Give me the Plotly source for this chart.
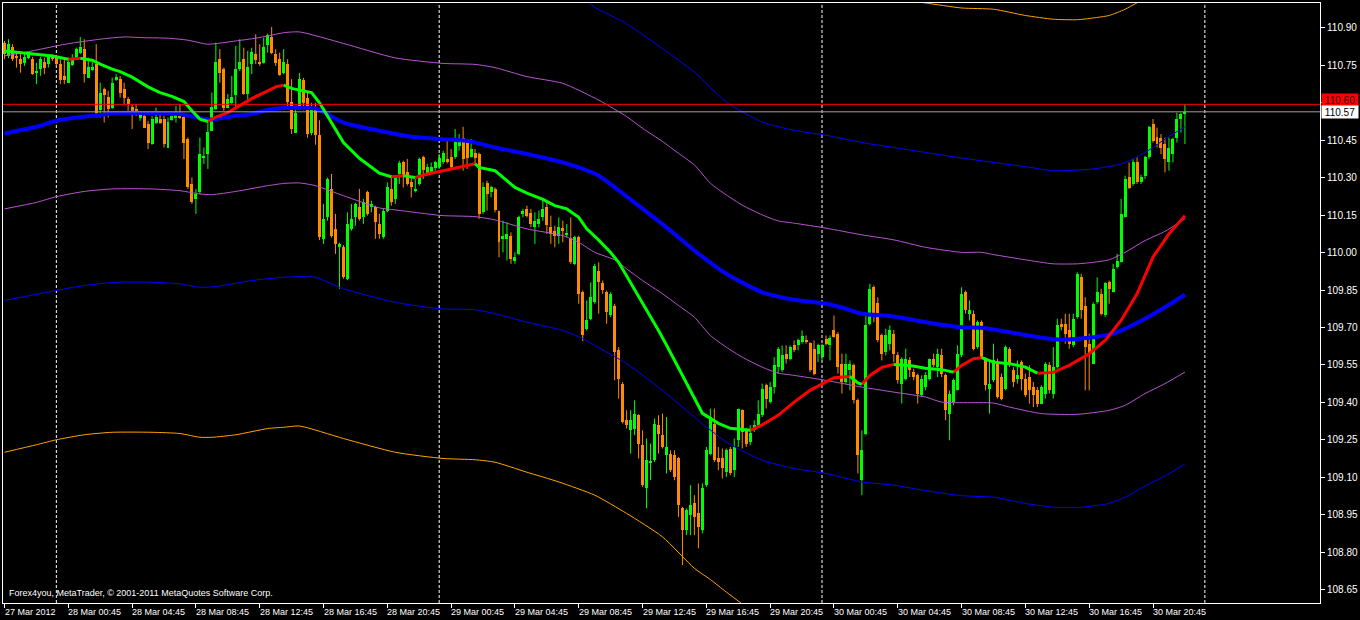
import plotly.graph_objects as go

# ---------------- DATA ----------------
# 15-minute bars, bar 0 = 27 Mar 2012 20:45
OPEN = [110.841,110.788,110.824,110.788,110.777,110.761,110.781,110.777,110.723,110.735,
        110.764,110.755,110.788,110.781,110.757,110.708,110.681,110.752,110.781,110.801,
        110.815,110.701,110.733,110.757,110.571,110.655,110.624,110.581,110.693,110.695,
        110.655,110.616,110.584,110.576,110.541,110.548,110.515,110.435,110.521,110.537,
        110.537,110.421,110.533,110.541,110.548,110.545,110.455,110.275,110.215,110.241,
        110.380,110.395,110.488,110.575,110.775,110.735,110.581,110.601,110.632,110.735,
        110.775,110.635,110.755,110.797,110.764,110.761,110.832,110.864,110.797,110.777,
        110.719,110.757,110.604,110.481,110.588,110.690,110.620,110.480,110.570,110.470,
        110.055,110.141,110.255,110.095,110.021,110.024,109.895,110.095,110.141,110.181,
        110.141,110.241,110.181,110.184,110.115,110.061,110.168,110.255,110.215,110.315,
        110.361,110.324,110.284,110.249,110.275,110.384,110.317,110.321,110.339,110.341,
        110.361,110.375,110.384,110.381,110.428,110.459,110.441,110.384,110.401,110.395,
        110.161,110.277,110.241,110.255,110.165,110.055,110.055,110.068,109.968,109.995,
        110.155,110.175,110.157,110.101,110.115,110.141,110.184,110.104,110.088,110.068,
        110.099,110.072,110.059,109.955,110.064,109.841,109.695,109.735,109.801,109.925,
        109.877,109.841,109.748,109.788,109.608,109.475,109.328,109.288,109.295,109.348,
        109.228,109.055,109.157,109.168,109.308,109.268,109.188,109.195,109.188,109.175,
        108.975,108.888,108.948,108.995,108.955,108.888,109.068,109.195,109.315,109.175,
        109.175,109.121,109.215,109.128,109.248,109.368,109.288,109.241,109.288,109.308,
        109.348,109.468,109.401,109.461,109.541,109.528,109.595,109.575,109.628,109.628,
        109.641,109.651,109.637,109.615,109.595,109.581,109.655,109.628,109.688,109.675,
        109.555,109.481,109.528,109.548,109.408,109.088,109.275,109.715,109.864,109.797,
        109.668,109.601,109.635,109.675,109.588,109.475,109.495,109.568,109.521,109.508,
        109.428,109.461,109.495,109.575,109.541,109.588,109.508,109.355,109.401,109.448,
        109.588,109.841,109.755,109.755,109.621,109.721,109.568,109.455,109.488,109.561,
        109.501,109.455,109.615,109.528,109.495,109.561,109.495,109.501,109.461,109.448,
        109.395,109.435,109.548,109.435,109.541,109.715,109.715,109.688,109.628,109.741,
        109.904,109.788,109.635,109.555,109.801,109.835,109.748,109.881,109.841,109.941,
        109.961,110.141,110.304,110.275,110.361,110.281,110.308,110.381,110.515,110.464,
        110.459,110.437,110.361,110.395,110.461,110.535,110.555]
HIGH = [110.848,110.855,110.835,110.801,110.795,110.801,110.801,110.784,110.761,110.784,
        110.781,110.795,110.795,110.788,110.775,110.775,110.781,110.795,110.821,110.864,
        110.855,110.781,110.775,110.835,110.681,110.661,110.648,110.701,110.715,110.708,
        110.681,110.624,110.595,110.595,110.561,110.555,110.528,110.548,110.581,110.561,
        110.548,110.541,110.561,110.588,110.595,110.555,110.461,110.301,110.255,110.461,
        110.421,110.528,110.641,110.841,110.815,110.741,110.635,110.708,110.828,110.855,
        110.821,110.808,110.821,110.875,110.835,110.861,110.877,110.904,110.815,110.801,
        110.815,110.775,110.695,110.581,110.720,110.700,110.640,110.600,110.600,110.530,
        110.195,110.300,110.315,110.155,110.040,110.030,110.161,110.195,110.200,110.255,
        110.215,110.248,110.208,110.188,110.155,110.175,110.281,110.308,110.308,110.368,
        110.368,110.375,110.301,110.295,110.381,110.388,110.355,110.361,110.368,110.395,
        110.408,110.448,110.415,110.495,110.475,110.504,110.455,110.455,110.415,110.401,
        110.281,110.288,110.268,110.261,110.168,110.128,110.121,110.081,110.001,110.148,
        110.175,110.188,110.175,110.161,110.168,110.208,110.201,110.148,110.108,110.141,
        110.128,110.115,110.141,110.068,110.068,109.848,109.808,109.881,109.955,109.961,
        109.888,109.848,109.841,109.795,109.621,109.481,109.368,109.368,109.408,109.352,
        109.288,109.255,109.235,109.335,109.348,109.355,109.341,109.208,109.208,109.181,
        108.981,108.975,109.068,109.028,109.075,109.075,109.221,109.375,109.375,109.221,
        109.215,109.215,109.221,109.255,109.375,109.372,109.295,109.308,109.328,109.408,
        109.475,109.475,109.481,109.581,109.621,109.628,109.628,109.628,109.648,109.655,
        109.688,109.668,109.641,109.648,109.635,109.635,109.668,109.668,109.748,109.681,
        109.595,109.595,109.568,109.555,109.415,109.288,109.748,109.875,109.868,109.821,
        109.675,109.695,109.708,109.690,109.601,109.581,109.615,109.581,109.535,109.515,
        109.508,109.521,109.575,109.595,109.615,109.615,109.515,109.448,109.495,109.628,
        109.861,109.848,109.808,109.768,109.728,109.728,109.581,109.568,109.635,109.575,
        109.515,109.628,109.621,109.541,109.568,109.568,109.515,109.548,109.481,109.461,
        109.468,109.561,109.561,109.621,109.735,109.735,109.755,109.755,109.755,109.921,
        109.915,109.821,109.675,109.801,109.901,109.855,109.881,109.888,109.955,109.995,
        110.215,110.308,110.361,110.375,110.381,110.312,110.388,110.508,110.535,110.501,
        110.475,110.461,110.461,110.461,110.561,110.561,110.595]
LOW = [110.775,110.779,110.768,110.741,110.721,110.748,110.775,110.712,110.675,110.708,
       110.715,110.741,110.768,110.748,110.675,110.675,110.681,110.748,110.779,110.795,
       110.681,110.701,110.728,110.541,110.541,110.521,110.541,110.575,110.688,110.621,
       110.595,110.555,110.495,110.548,110.528,110.499,110.415,110.432,110.515,110.515,
       110.421,110.419,110.528,110.521,110.535,110.375,110.255,110.195,110.155,110.235,
       110.355,110.335,110.488,110.571,110.681,110.568,110.579,110.595,110.575,110.728,
       110.632,110.601,110.715,110.755,110.748,110.757,110.801,110.795,110.748,110.708,
       110.715,110.575,110.475,110.481,110.580,110.570,110.460,110.470,110.432,110.050,
       110.035,110.128,110.060,109.995,109.855,109.895,109.890,110.088,110.108,110.128,
       110.115,110.148,110.161,110.055,110.055,110.055,110.161,110.188,110.195,110.275,
       110.261,110.268,110.221,110.241,110.268,110.295,110.308,110.315,110.328,110.335,
       110.355,110.357,110.335,110.375,110.408,110.328,110.335,110.381,110.355,110.135,
       110.155,110.168,110.221,110.161,109.981,110.001,109.968,109.955,109.955,109.990,
       110.141,110.141,110.101,110.035,110.101,110.128,110.075,110.035,110.021,110.035,
       110.041,110.061,109.955,109.950,109.795,109.645,109.688,109.728,109.795,109.755,
       109.835,109.715,109.741,109.488,109.415,109.315,109.295,109.195,109.268,109.175,
       109.061,108.975,109.088,109.161,109.195,109.215,109.115,109.121,109.088,108.941,
       108.748,108.868,108.868,108.868,108.815,108.875,109.061,109.188,109.161,109.128,
       109.095,109.101,109.108,109.101,109.221,109.215,109.221,109.228,109.281,109.301,
       109.341,109.375,109.395,109.435,109.515,109.521,109.555,109.568,109.601,109.608,
       109.635,109.635,109.521,109.508,109.561,109.568,109.628,109.568,109.659,109.515,
       109.435,109.475,109.448,109.395,109.115,109.028,109.268,109.708,109.721,109.641,
       109.568,109.588,109.608,109.560,109.475,109.395,109.488,109.501,109.488,109.395,
       109.421,109.448,109.488,109.541,109.501,109.501,109.328,109.248,109.388,109.448,
       109.581,109.755,109.728,109.608,109.615,109.575,109.448,109.355,109.481,109.415,
       109.408,109.448,109.541,109.461,109.475,109.448,109.421,109.395,109.381,109.381,
       109.395,109.415,109.435,109.415,109.535,109.688,109.635,109.615,109.621,109.735,
       109.735,109.448,109.448,109.555,109.795,109.748,109.741,109.795,109.841,109.935,
       109.961,110.141,110.255,110.268,110.275,110.275,110.295,110.375,110.441,110.421,
       110.395,110.321,110.328,110.361,110.441,110.481,110.435]
CLOSE = [110.795,110.835,110.775,110.779,110.755,110.784,110.795,110.715,110.725,110.775,
         110.741,110.785,110.775,110.757,110.691,110.691,110.764,110.771,110.815,110.824,
         110.715,110.744,110.744,110.561,110.641,110.632,110.575,110.681,110.704,110.641,
         110.619,110.595,110.565,110.561,110.552,110.501,110.441,110.537,110.544,110.521,
         110.435,110.524,110.548,110.557,110.541,110.441,110.261,110.201,110.235,110.395,
         110.383,110.484,110.584,110.764,110.721,110.581,110.615,110.624,110.735,110.764,
         110.637,110.744,110.804,110.771,110.755,110.824,110.872,110.800,110.761,110.712,
         110.764,110.604,110.495,110.561,110.695,110.600,110.477,110.570,110.472,110.061,
         110.135,110.295,110.068,110.035,110.035,109.901,110.115,110.135,110.195,110.135,
         110.201,110.155,110.195,110.121,110.075,110.168,110.264,110.201,110.304,110.357,
         110.312,110.275,110.264,110.252,110.375,110.331,110.344,110.341,110.361,110.379,
         110.401,110.361,110.341,110.445,110.455,110.375,110.379,110.415,110.379,110.155,
         110.264,110.235,110.261,110.171,110.041,110.068,110.075,109.975,109.984,110.141,
         110.168,110.148,110.115,110.128,110.135,110.175,110.112,110.075,110.068,110.104,
         110.088,110.075,109.961,110.061,109.835,109.668,109.728,109.821,109.948,109.881,
         109.851,109.761,109.835,109.601,109.495,109.321,109.308,109.328,109.355,109.235,
         109.068,109.168,109.160,109.315,109.275,109.221,109.221,109.128,109.101,108.988,
         108.888,108.968,108.988,108.941,108.901,109.055,109.208,109.341,109.168,109.161,
         109.135,109.208,109.115,109.221,109.375,109.281,109.235,109.277,109.308,109.355,
         109.455,109.415,109.461,109.548,109.615,109.588,109.575,109.621,109.608,109.648,
         109.664,109.641,109.528,109.515,109.631,109.628,109.635,109.659,109.661,109.541,
         109.481,109.555,109.555,109.408,109.188,109.208,109.708,109.855,109.755,109.648,
         109.595,109.668,109.688,109.595,109.488,109.575,109.575,109.528,109.501,109.435,
         109.495,109.508,109.575,109.548,109.595,109.515,109.368,109.435,109.488,109.595,
         109.835,109.768,109.768,109.615,109.721,109.581,109.468,109.475,109.568,109.421,
         109.415,109.621,109.555,109.481,109.508,109.495,109.428,109.448,109.428,109.395,
         109.461,109.555,109.448,109.541,109.708,109.701,109.675,109.635,109.735,109.915,
         109.768,109.621,109.595,109.795,109.841,109.755,109.877,109.855,109.935,109.968,
         110.155,110.295,110.259,110.361,110.281,110.304,110.384,110.504,110.448,110.437,
         110.421,110.375,110.421,110.455,110.535,110.555,110.564]

TICK_BARS = [0, 16, 32, 48, 64, 80, 96, 112, 128, 144, 160, 176, 192, 208, 224, 240, 256, 272, 288]
TICK_TEXT = ["27 Mar 2012", "28 Mar 00:45", "28 Mar 04:45", "28 Mar 08:45", "28 Mar 12:45",
             "28 Mar 16:45", "28 Mar 20:45", "29 Mar 00:45", "29 Mar 04:45", "29 Mar 08:45",
             "29 Mar 12:45", "29 Mar 16:45", "29 Mar 20:45", "30 Mar 00:45", "30 Mar 04:45",
             "30 Mar 08:45", "30 Mar 12:45", "30 Mar 16:45", "30 Mar 20:45"]
PRICE_TICKS = [108.65, 108.80, 108.95, 109.10, 109.25, 109.40, 109.55, 109.70, 109.85,
               110.00, 110.15, 110.30, 110.45, 110.60, 110.75, 110.90]
DAY_SEPARATOR_BARS = [13, 109, 205, 301]
BID = 110.564
ASK = 110.594
BID_LABEL = "110.57"
ASK_LABEL = "110.60"
COPYRIGHT = "Forex4you, MetaTrader, © 2001-2011 MetaQuotes Software Corp."

# fast moving average (red when rising, green when falling)
MA_FAST_BARS = [0, 4, 8, 12, 16, 19, 22, 24, 27, 29, 32, 36, 39, 42, 45, 47, 49, 51, 53, 56,
                59, 62, 66, 68, 70, 72, 74, 77, 79, 82, 85, 89, 94, 97, 100, 103, 106, 110, 114, 118,
                119, 123, 128, 131, 135, 138, 141, 144, 146, 149, 152, 154, 157, 159, 162, 164, 166, 168, 170, 172,
                175, 179, 182, 187, 190, 194, 198, 202, 206, 208, 212, 214, 215, 217, 220, 223, 227, 231, 235, 238,
                240, 243, 245, 248, 252, 256, 259, 263, 267, 272, 276, 280, 284, 288, 292, 296]
MA_FAST = [110.808, 110.801, 110.795, 110.788, 110.775, 110.779, 110.771, 110.755, 110.735, 110.725,
           110.703, 110.664, 110.641, 110.626, 110.605, 110.568, 110.535, 110.525, 110.543, 110.561,
           110.588, 110.617, 110.648, 110.664, 110.671, 110.658, 110.651, 110.641, 110.600, 110.522,
           110.441, 110.378, 110.318, 110.304, 110.308, 110.301, 110.315, 110.328, 110.341, 110.356,
           110.341, 110.328, 110.261, 110.238, 110.213, 110.188, 110.175, 110.141, 110.095, 110.050,
           110.000, 109.961, 109.880, 109.828, 109.745, 109.688, 109.630, 109.568, 109.510, 109.448,
           109.356, 109.316, 109.296, 109.288, 109.310, 109.348, 109.401, 109.448, 109.481, 109.499,
           109.504, 109.478, 109.472, 109.508, 109.540, 109.552, 109.548, 109.537, 109.531, 109.521,
           109.548, 109.575, 109.579, 109.561, 109.555, 109.541, 109.517, 109.520, 109.548, 109.595,
           109.648, 109.728, 109.835, 109.982, 110.075, 110.148]

# slow moving average (thick blue)
MA_SLOW_BARS = [0, 8, 13, 20, 24, 28, 37, 44, 49, 52, 58, 62, 66, 70, 74, 78, 85, 94, 102, 109,
                116, 123, 131, 140, 144, 149, 158, 167, 173, 181, 190, 198, 206, 211, 215, 223, 231, 240, 245, 252,
                260, 265, 273, 278, 281, 286, 291, 296]
MA_SLOW = [110.477, 110.504, 110.528, 110.545, 110.551, 110.559, 110.559, 110.555, 110.539, 110.533,
           110.548, 110.555, 110.571, 110.579, 110.579, 110.578, 110.521, 110.488, 110.464, 110.455,
           110.448, 110.421, 110.395, 110.361, 110.341, 110.308, 110.200, 110.088, 110.008, 109.915,
           109.841, 109.811, 109.795, 109.775, 109.755, 109.744, 109.721, 109.701, 109.699, 109.681,
           109.659, 109.651, 109.661, 109.675, 109.695, 109.735, 109.781, 109.831]

# envelope bands
VIOLET_UP_BARS = [0, 6, 13, 16, 24, 30, 35, 41, 46, 51, 58, 63, 66, 70, 74, 85, 98, 110, 118, 123,
                  131, 140, 149, 156, 160, 165, 169, 173, 177, 181, 185, 190, 194, 198, 206, 215, 223, 231, 240, 245,
                  248, 256, 263, 269, 273, 277, 281, 286, 291, 296]
VIOLET_UP = [110.788, 110.805, 110.828, 110.837, 110.855, 110.864, 110.861, 110.859, 110.851, 110.835,
             110.848, 110.859, 110.868, 110.881, 110.884, 110.838, 110.780, 110.758, 110.754, 110.741,
             110.705, 110.678, 110.611, 110.545, 110.498, 110.445, 110.398, 110.351, 110.278, 110.231,
             110.190, 110.151, 110.127, 110.118, 110.098, 110.071, 110.051, 110.021, 110.001, 110.001,
             109.992, 109.971, 109.955, 109.955, 109.961, 109.971, 110.001, 110.048, 110.085, 110.135]
VIOLET_LO_BARS = [0, 8, 13, 20, 27, 37, 44, 49, 52, 58, 66, 70, 74, 78, 85, 94, 98, 106, 110, 118,
                  123, 131, 140, 144, 148, 153, 156, 160, 165, 169, 173, 177, 181, 185, 190, 194, 198, 206, 215, 223,
                  231, 235, 248, 252, 260, 269, 277, 281, 286, 291, 296]
VIOLET_LO = [110.175, 110.201, 110.224, 110.245, 110.255, 110.255, 110.248, 110.235, 110.232, 110.245,
             110.268, 110.277, 110.279, 110.268, 110.228, 110.179, 110.171, 110.155, 110.148, 110.144,
             110.131, 110.095, 110.068, 110.041, 110.001, 109.971, 109.935, 109.888, 109.835, 109.788,
             109.741, 109.668, 109.621, 109.581, 109.541, 109.517, 109.508, 109.488, 109.461, 109.441,
             109.421, 109.401, 109.397, 109.381, 109.355, 109.352, 109.368, 109.388, 109.435, 109.475, 109.521]
BLUE_UP_BARS = [146, 148, 156, 165, 173, 181, 190, 198, 206, 215, 223, 231, 240, 248, 256, 263, 273, 280, 283, 288,
                291, 296]
BLUE_UP = [111.010, 110.983, 110.917, 110.817, 110.723, 110.603, 110.523, 110.490, 110.470, 110.441,
           110.421, 110.401, 110.379, 110.361, 110.344, 110.328, 110.335, 110.355, 110.375, 110.421,
           110.455, 110.504]
BLUE_LO_BARS = [0, 14, 20, 28, 37, 44, 49, 53, 62, 70, 74, 78, 85, 98, 109, 118, 123, 131, 140, 145,
                148, 156, 165, 173, 181, 190, 198, 206, 215, 223, 231, 240, 248, 256, 263, 269, 273, 277, 281, 286,
                291, 296]
BLUE_LO = [109.808, 109.851, 109.868, 109.881, 109.881, 109.875, 109.861, 109.864, 109.888, 109.901,
           109.904, 109.901, 109.855, 109.801, 109.775, 109.771, 109.755, 109.721, 109.688, 109.655,
           109.628, 109.555, 109.448, 109.341, 109.241, 109.168, 109.135, 109.115, 109.081, 109.068,
           109.046, 109.026, 109.020, 108.995, 108.980, 108.978, 108.985, 108.995, 109.020, 109.065,
           109.105, 109.153]
ORANGE_UP_BARS = [226, 231, 240, 248, 256, 263, 269, 273, 277, 281, 285]
ORANGE_UP = [111.010, 111.000, 110.980, 110.975, 110.950, 110.935, 110.933, 110.940, 110.950, 110.975, 111.010]
ORANGE_LO_BARS = [0, 8, 13, 20, 27, 37, 44, 49, 52, 58, 66, 70, 74, 85, 98, 110, 118, 123, 131, 139,
                  148, 156, 165, 173, 177, 181, 186]
ORANGE_LO = [109.200, 109.230, 109.250, 109.270, 109.280, 109.280, 109.275, 109.260, 109.260, 109.270,
             109.295, 109.300, 109.305, 109.255, 109.200, 109.175, 109.170, 109.160, 109.120, 109.081,
             109.028, 108.955, 108.861, 108.735, 108.690, 108.640, 108.580]

# ---------------- STYLE ----------------
BULL = "#00FF00"
BEAR = "#FF8C00"
MA_RISE = "#FF0000"
MA_FALL = "#00FF00"
MA_SLOW_COLOR = "#0000FF"
VIOLET = "#BA55D3"
THIN_BLUE = "#0000FF"
BAND_ORANGE = "#FFA500"
FONT = "Liberation Sans, Arial, sans-serif"

W, H = 1360, 620
M_L, M_R, M_T, M_B = 2, 37, 2, 17
X_RANGE = [-0.375, 329.875]
Y_RANGE = [108.596, 111.0]

fig = go.Figure()

# candle wicks
n = len(OPEN)
for color, is_bull in ((BEAR, False), (BULL, True)):
    xs, ys = [], []
    for i in range(n):
        if (CLOSE[i] >= OPEN[i]) == is_bull:
            xs += [i, i, None]
            ys += [LOW[i], HIGH[i], None]
    fig.add_trace(go.Scatter(x=xs, y=ys, mode="lines", line=dict(color=color, width=1),
                             hoverinfo="skip", showlegend=False))

# candle bodies
min_body = (Y_RANGE[1] - Y_RANGE[0]) / (H - M_T - M_B)
base = [min(o, c) for o, c in zip(OPEN, CLOSE)]
height = [max(abs(c - o), min_body) for o, c in zip(OPEN, CLOSE)]
colors = [BULL if c >= o else BEAR for o, c in zip(OPEN, CLOSE)]
fig.add_trace(go.Bar(x=list(range(n)), y=height, base=base, width=0.75,
                     marker=dict(color=colors, line=dict(width=0)),
                     hoverinfo="skip", showlegend=False))

# envelope bands
def band(xs, ys, color):
    fig.add_trace(go.Scatter(x=xs, y=ys, mode="lines",
                             line=dict(color=color, width=1, shape="spline", smoothing=0.6),
                             hoverinfo="skip", showlegend=False))

band(ORANGE_LO_BARS, ORANGE_LO, BAND_ORANGE)
band(ORANGE_UP_BARS, ORANGE_UP, BAND_ORANGE)
band(BLUE_LO_BARS, BLUE_LO, THIN_BLUE)
band(BLUE_UP_BARS, BLUE_UP, THIN_BLUE)
band(VIOLET_LO_BARS, VIOLET_LO, VIOLET)
band(VIOLET_UP_BARS, VIOLET_UP, VIOLET)

# slow MA
fig.add_trace(go.Scatter(x=MA_SLOW_BARS, y=MA_SLOW, mode="lines",
                         line=dict(color=MA_SLOW_COLOR, width=4, shape="spline", smoothing=0.6),
                         hoverinfo="skip", showlegend=False))

# fast MA, coloured by direction
segs = {MA_RISE: ([], []), MA_FALL: ([], [])}
last_color = None
for k in range(len(MA_FAST) - 1):
    col = MA_RISE if MA_FAST[k + 1] > MA_FAST[k] else MA_FALL
    xs, ys = segs[col]
    if col != last_color:
        if xs:
            xs.append(None); ys.append(None)
        xs.append(MA_FAST_BARS[k]); ys.append(MA_FAST[k])
    xs.append(MA_FAST_BARS[k + 1]); ys.append(MA_FAST[k + 1])
    last_color = col
for col, (xs, ys) in segs.items():
    fig.add_trace(go.Scatter(x=xs, y=ys, mode="lines", line=dict(color=col, width=3),
                             hoverinfo="skip", showlegend=False))

# shapes: day separators, bid/ask lines
shapes = []
for b in DAY_SEPARATOR_BARS:
    shapes.append(dict(type="line", xref="x", yref="paper", x0=b, x1=b, y0=0, y1=1,
                       line=dict(color="white", width=1, dash="3px,2px"), layer="below"))
shapes.append(dict(type="line", xref="paper", yref="y", x0=0, x1=1, y0=ASK, y1=ASK,
                   line=dict(color="#FF0000", width=1), layer="above"))
shapes.append(dict(type="line", xref="paper", yref="y", x0=0, x1=1, y0=BID, y1=BID,
                   line=dict(color="#A0A0A0", width=1), layer="above"))

annotations = []
for b, t in zip(TICK_BARS, TICK_TEXT):
    annotations.append(dict(x=b, y=0, xref="x", yref="paper", text=t, showarrow=False,
                            xanchor="left", yanchor="top", xshift=-2, yshift=-2,
                            font=dict(family=FONT, size=9, color="white")))
annotations.append(dict(x=0, y=0, xref="paper", yref="paper", text=COPYRIGHT, showarrow=False,
                        xanchor="left", yanchor="bottom", xshift=4, yshift=3,
                        font=dict(family=FONT, size=9, color="white")))
annotations.append(dict(x=1, y=ASK, xref="paper", yref="y", text=ASK_LABEL, showarrow=False,
                        xanchor="left", yanchor="middle", xshift=1, yshift=4, width=36, height=12,
                        borderpad=0, bgcolor="#FF0000",
                        font=dict(family=FONT, size=10, color="#300000")))
annotations.append(dict(x=1, y=BID, xref="paper", yref="y", text=BID_LABEL, showarrow=False,
                        xanchor="left", yanchor="middle", xshift=1, width=36, height=12,
                        borderpad=0, bgcolor="white",
                        font=dict(family=FONT, size=10, color="black")))

# the regular 110.60 axis label is hidden behind the ask-price box, as in the terminal
tick_text = ["" if abs(v - ASK) < 0.02 else f"{v:.2f}" for v in PRICE_TICKS]

fig.update_layout(
    width=W, height=H, autosize=False,
    margin=dict(l=M_L, r=M_R, t=M_T, b=M_B, pad=0),
    paper_bgcolor="black", plot_bgcolor="black",
    showlegend=False, barmode="overlay", bargap=0,
    shapes=shapes, annotations=annotations,
    xaxis=dict(range=X_RANGE, showgrid=False, zeroline=False, showline=True, linecolor="white",
               linewidth=1, mirror=True, tickvals=TICK_BARS, ticks="outside", ticklen=4,
               tickcolor="white", showticklabels=False, fixedrange=True),
    yaxis=dict(range=Y_RANGE, side="right", showgrid=False, zeroline=False, showline=True,
               linecolor="white", linewidth=1, mirror=True, tickvals=PRICE_TICKS,
               ticktext=tick_text, ticks="outside", ticklen=4,
               tickcolor="white", tickfont=dict(family=FONT, size=10, color="white"),
               fixedrange=True),
)

fig.write_html("out.html", config={"displayModeBar": False})
